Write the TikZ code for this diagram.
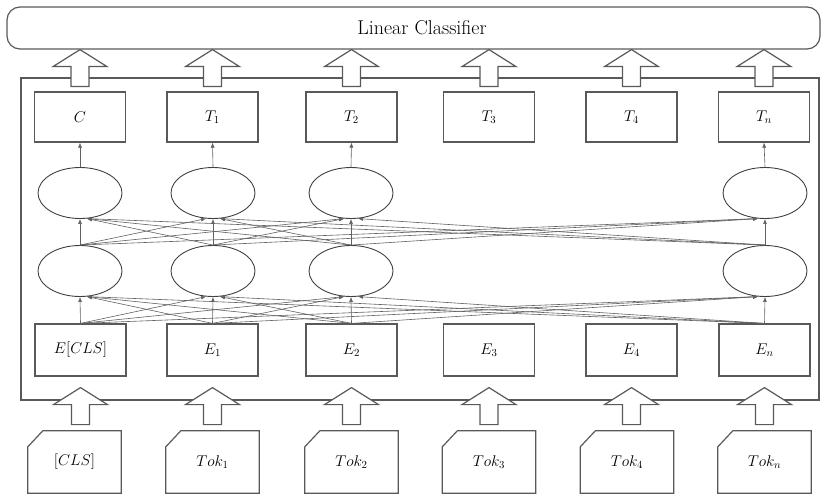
\documentclass[tikz,border=0pt]{standalone}
\usetikzlibrary{calc,arrows.meta,shapes.geometric}
\newcommand\labfont{\fontsize{14.4}{17}\selectfont}
\newcommand\lbx[1]{\scalebox{1.08}{$#1$}}
\begin{document}
\begin{tikzpicture}[x=1pt,y=-1pt,
  boxline/.style={draw=black!65, line width=1.2pt},
  rbox/.style={boxline, fill=white, rectangle, minimum width=91pt, minimum height=50pt, inner sep=0pt, font=\labfont},
  tokbox/.style={rectangle, minimum width=93pt, minimum height=62pt, inner sep=0pt, font=\labfont},
  ell/.style={ellipse, draw=black!75, line width=0.9pt, minimum width=84pt, minimum height=51pt, inner sep=0pt},
  conn/.style={draw=black!62, line width=0.6pt, -{Latex[length=5pt,width=4pt]}},
  blockup/.pic={\draw[boxline, fill=white, line join=miter] (0,0) -- (27,17) -- (9,17) -- (9,37) -- (-9,37) -- (-9,17) -- (-27,17) -- cycle;}
]
\useasboundingbox (0,0) rectangle (822,495);

% classifier
\node[boxline, rectangle, rounded corners=13pt, minimum width=813pt, minimum height=42pt, inner sep=0pt] (cls) at (413.5,28) {};
\node[font=\fontsize{20}{23}\selectfont, inner sep=0pt] (clstext) at (422,28) {Linear Classifier};

% encoder frame
\node[boxline, rectangle, minimum width=798pt, minimum height=322pt, inner sep=0pt] (enc) at (420,239) {};

% output boxes
\foreach \n/\x/\lbl in {0/80/C, 1/212.5/T_1, 2/351.5/T_2, 3/489/T_3, 4/631.5/T_4, n/764/T_n}
  \node[rbox] (t\n) at (\x,117) {\lbx{\lbl}};

% embedding boxes
\foreach \n/\x/\lbl in {0/80.5/{E[CLS]}, 1/212.5/E_1, 2/351.5/E_2, 3/489/E_3, 4/631.5/E_4, n/764.5/E_n}
  \node[rbox, minimum height=52pt] (e\n) at (\x,350) {\lbx{\lbl}};

% token boxes
\foreach \n/\x/\lbl in {0/74.5/{[CLS]}, 1/212.5/Tok_1, 2/351.5/Tok_2, 3/489/Tok_3, 4/627/Tok_4, n/764.5/Tok_n}{
  \node[tokbox] (k\n) at (\x,462) {\lbx{\lbl}};
  \draw[boxline] ($(k\n.north west)+(15,0)$) -- (k\n.north east) -- (k\n.south east) -- (k\n.south west) -- ($(k\n.north west)+(0,16)$) -- cycle;
}

% ellipses
\foreach \n/\x in {0/80,1/213,2/351,n/765}{
  \node[ell] (u\n) at (\x,193) {};
  \node[ell] (l\n) at (\x,271) {};
}

% connections
\foreach \a/\ai in {0/0,1/1,2/2,n/5}{
  \foreach \b/\bi in {0/0,1/1,2/2,n/5}{
    \ifnum\ai<\bi \def\ang{-105}\else\ifnum\ai>\bi \def\ang{-75}\else\def\ang{-90}\fi\fi
    \draw[conn] (e\a.north) -- (l\b.\ang);
    \draw[conn] (l\a.north) -- (u\b.\ang);
  }
  \draw[conn] (u\a.north) -- (t\a.south);
}

% block arrows
\foreach \n in {0,1,2,3,4,n}{
  \path (t\n |- cls.south) pic {blockup};
  \path ($(e\n.south)+(0,11)$) pic {blockup};
}
\end{tikzpicture}
\end{document}
